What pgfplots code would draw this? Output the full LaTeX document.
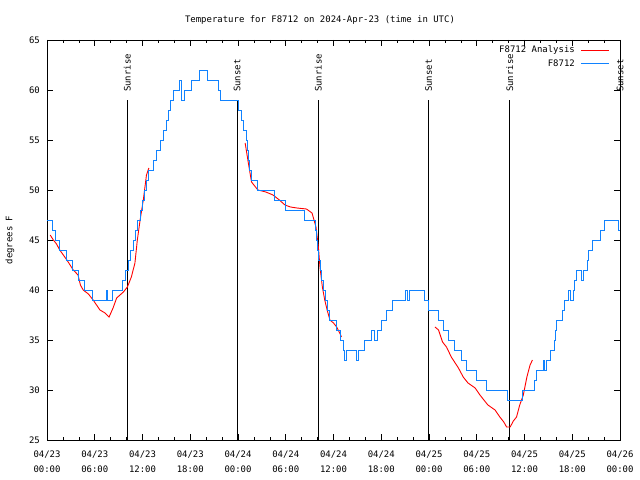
\documentclass[border=0pt]{standalone}
\usepackage{fontspec}
\setmainfont{DejaVu Sans Mono}
\usepackage{pgfplots}
\pgfplotsset{compat=1.18}
\definecolor{gpblue}{RGB}{16,130,255}
\definecolor{gpred}{RGB}{255,0,0}
\begin{document}
\fontsize{9}{11}\selectfont
\begin{tikzpicture}
\useasboundingbox (0,0) rectangle (640bp,480bp);
\begin{axis}[
  scale only axis, width=573bp, height=400bp,
  at={(47bp,40bp)}, anchor=south west,
  xmin=0, xmax=72, ymin=25, ymax=65,
  clip=false,
  xtick={0,6,...,72},
  xticklabels={{04/23\\00:00},{04/23\\06:00},{04/23\\12:00},{04/23\\18:00},{04/24\\00:00},{04/24\\06:00},{04/24\\12:00},{04/24\\18:00},{04/25\\00:00},{04/25\\06:00},{04/25\\12:00},{04/25\\18:00},{04/26\\00:00}},
  minor x tick num=2,
  ytick={25,30,...,65},
  /pgf/number format/assume math mode=true,
  tick align=inside,
  major tick length=6bp, minor tick length=3bp,
  every tick/.style={black, line width=0.6bp},
  axis line style={line width=0.8bp},
  xticklabel style={align=center, font=\fontsize{9}{15}\selectfont, yshift=-8bp},
  yticklabel style={font=\fontsize{9}{11}\selectfont, xshift=-4bp},
  ylabel={degrees F},
  ylabel style={at={(axis description cs:-0.0646,0.5)}, anchor=center, font=\fontsize{9}{11}\selectfont},
]
% Sunrise/Sunset lines
\addplot[black, line width=0.8bp, forget plot] coordinates {(10.1,25) (10.1,59)};
\addplot[black, line width=0.8bp, forget plot] coordinates {(23.9,25) (23.9,59)};
\addplot[black, line width=0.8bp, forget plot] coordinates {(34.1,25) (34.1,59)};
\addplot[black, line width=0.8bp, forget plot] coordinates {(47.95,25) (47.95,59)};
\addplot[black, line width=0.8bp, forget plot] coordinates {(58.15,25) (58.15,59)};
\addplot[black, line width=0.8bp, forget plot] coordinates {(72,25) (72,59)};
\node[rotate=90, anchor=west, inner sep=0pt] at (axis cs:10.1,59.8) {Sunrise};
\node[rotate=90, anchor=west, inner sep=0pt] at (axis cs:23.9,59.8) {Sunset};
\node[rotate=90, anchor=west, inner sep=0pt] at (axis cs:34.1,59.8) {Sunrise};
\node[rotate=90, anchor=west, inner sep=0pt] at (axis cs:47.95,59.8) {Sunset};
\node[rotate=90, anchor=west, inner sep=0pt] at (axis cs:58.15,59.8) {Sunrise};
\node[rotate=90, anchor=west, inner sep=0pt] at (axis cs:72,59.8) {Sunset};
% Analysis (red)
\addplot[gpred, line width=0.9bp, forget plot] coordinates {
(0.4,45.5) (0.8,45) (1.2,44.6) (1.6,44) (2.5,43) (3.3,42) (3.9,41.5) (4.2,40.5) (4.55,40)
(5.2,39.6) (5.8,39) (6.65,38) (7.3,37.7) (7.8,37.3) (8.3,38.2) (8.75,39.2) (9.6,39.8)
(10.1,40.3) (10.6,41.3) (11.05,42.7) (11.35,45) (11.7,47) (12.1,49) (12.5,51.5) (12.8,52.2)
};
\addplot[gpred, line width=0.9bp, forget plot] coordinates {
(24.9,54.7) (25.3,52.7) (25.7,50.8) (26.5,50) (27.5,49.8) (28.4,49.5) (29.2,49) (29.9,48.5)
(30.6,48.3) (31.4,48.2) (32.6,48.1) (33.3,47.7) (33.8,46.3) (34.1,44.3) (34.3,42.3) (34.6,40.3)
(34.9,39) (35.2,38) (35.55,37) (36,36.7) (36.4,36.3) (36.9,35.5) (37.0,35.3)
};
\addplot[gpred, line width=0.9bp, forget plot] coordinates {
(48.75,36.3) (49.2,36) (49.7,34.8) (50.2,34.3) (50.8,33.3) (51.7,32.2) (52.3,31.3) (52.9,30.7)
(53.8,30.2) (54.4,29.5) (54.9,29) (55.4,28.5) (56.3,28) (56.9,27.3) (57.4,26.8) (57.75,26.3)
(58.2,26.3) (58.6,26.9) (59.0,27.3) (59.4,28.5) (59.85,29.5) (60.3,31.3) (60.7,32.5) (61.0,33)
};
% Observations (blue)
\addplot[gpblue, line width=0.9bp, const plot, forget plot] coordinates {
(0,47) (0.7,46) (1.1,45) (1.6,44) (2.4,43) (3.2,42) (4.0,41) (4.7,40) (5.7,39) (7.5,40) (7.65,39)
(8.2,40) (9.5,41) (9.9,42) (10.2,43) (10.5,44) (10.8,45) (11.1,46) (11.4,47) (11.7,48) (11.95,49)
(12.2,50) (12.45,51) (12.7,52) (13.35,53) (13.8,54) (14.2,55) (14.6,56) (15.0,57) (15.25,58)
(15.5,59) (15.9,60) (16.7,61) (16.9,59) (17.3,60) (18.2,61) (19.2,62) (20.1,61) (21.5,60)
(21.8,59) (24.1,58) (24.4,57) (24.7,56) (25.0,55) (25.2,54) (25.35,53) (25.5,52) (25.7,51)
(26.5,50) (28.6,49) (30.0,48) (32.4,47) (33.7,46) (33.85,45) (34.0,44) (34.15,43) (34.3,42)
(34.5,41) (34.7,40) (35.0,39) (35.3,38) (35.55,37) (36.4,36) (36.9,35) (37.2,34) (37.4,33)
(37.65,34) (38.9,33) (39.1,34) (39.9,35) (40.8,36) (41.2,35) (41.5,36) (42.0,37) (42.7,38)
(43.4,39) (45.0,40) (45.35,39) (45.6,40) (47.4,39) (47.9,38) (49.2,37) (49.8,36) (50.4,35)
(51.2,34) (52.1,33) (52.7,32) (54.0,31) (55.2,30) (57.8,29) (59.8,30) (61.3,31) (61.5,32)
(62.35,33) (62.55,32) (62.7,33) (63.2,34) (63.8,35) (63.95,36) (64.0,37) (64.8,38) (65.0,39)
(65.5,40) (65.8,39) (66.1,40) (66.3,41) (66.55,42) (67.2,41) (67.4,42) (67.85,43) (68.0,44)
(68.5,45) (69.55,46) (70.1,47) (71.8,46) (72,46)
};
% Legend
\draw[gpred, line width=0.9bp] (axis description cs:0.932,0.975) -- (axis description cs:0.981,0.975);
\node[anchor=east, inner sep=0pt] at (axis description cs:0.9215,0.975) {F8712 Analysis};
\draw[gpblue, line width=0.9bp] (axis description cs:0.932,0.9425) -- (axis description cs:0.981,0.9425);
\node[anchor=east, inner sep=0pt] at (axis description cs:0.9215,0.9425) {F8712};
\end{axis}
\node at (320bp,460bp) {Temperature for F8712 on 2024-Apr-23 (time in UTC)};
\end{tikzpicture}
\end{document}
